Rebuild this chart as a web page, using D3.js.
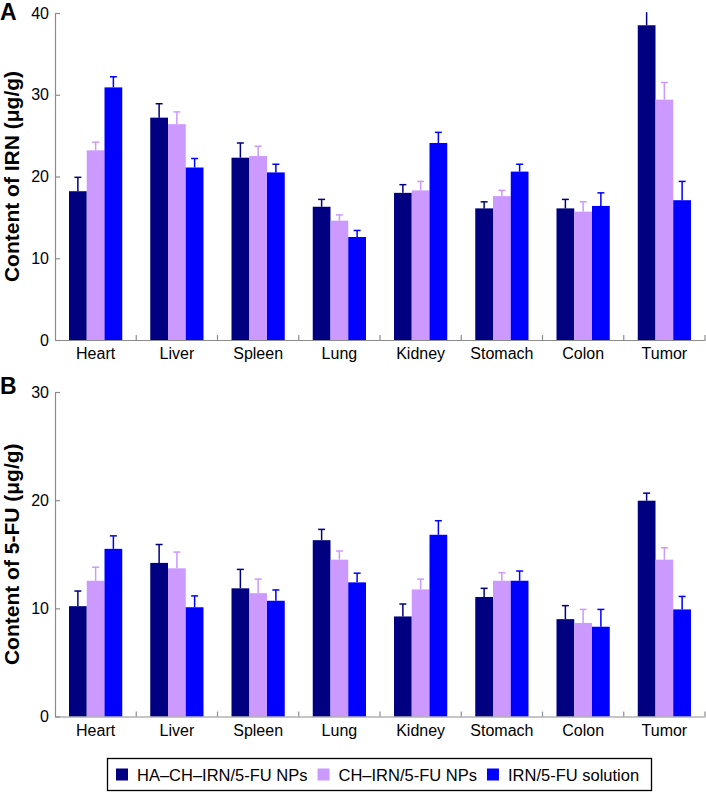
<!DOCTYPE html>
<html><head><meta charset="utf-8">
<script src="https://cdn.jsdelivr.net/npm/d3@7"></script>
<style>body{margin:0;background:#fff}svg{display:block;font-family:"Liberation Sans",Arial,sans-serif}</style>
</head><body>
<svg id="c" width="706" height="792"></svg>
<script>
const categories = ["Heart","Liver","Spleen","Lung","Kidney","Stomach","Colon","Tumor"];
const seriesNames = ["HA–CH–IRN/5-FU NPs","CH–IRN/5-FU NPs","IRN/5-FU solution"];
const colors = ["#000080","#cc99ff","#0000ff"];

// Panel A: IRN content (µg/g)
const irnHA   = [18.2, 27.2, 22.3, 16.3, 18.0, 16.1, 16.1, 38.5];
const irnCH   = [23.2, 26.4, 22.5, 14.6, 18.3, 17.6, 15.7, 29.4];
const irnSol  = [30.9, 21.1, 20.5, 12.6, 24.1, 20.6, 16.4, 17.1];
const irnHAErr  = [1.7, 1.7, 1.8, 0.9, 1.0, 0.8, 1.1, 1.6];
const irnCHErr  = [1.0, 1.5, 1.2, 0.7, 1.1, 0.7, 1.2, 2.1];
const irnSolErr = [1.3, 1.1, 1.0, 0.8, 1.3, 0.9, 1.6, 2.3];

// Panel B: 5-FU content (µg/g)
const fuHA   = [10.2, 14.2, 11.85, 16.3, 9.25, 11.05, 9.0, 19.95];
const fuCH   = [12.55, 13.7, 11.4, 14.5, 11.75, 12.55, 8.65, 14.5];
const fuSol  = [15.5, 10.1, 10.7, 12.4, 16.8, 12.55, 8.3, 9.9];
const fuHAErr  = [1.4, 1.7, 1.75, 1.0, 1.15, 0.8, 1.25, 0.7];
const fuCHErr  = [1.25, 1.5, 1.3, 0.8, 0.95, 0.75, 1.25, 1.1];
const fuSolErr = [1.2, 1.05, 1.0, 0.85, 1.3, 0.9, 1.6, 1.2];

const yTicksA = [0,10,20,30,40];
const yTicksB = [0,10,20,30];

const svg = d3.select("#c");
const axisColor = "#8c8c8c";

function panel(cfg){
  const g = svg.append("g");
  const x = d3.scaleBand().domain(categories).range([55,705]);
  const inner = d3.scaleBand().domain(seriesNames).range([14, x.bandwidth()-14]);
  const y = d3.scaleLinear().domain(cfg.domain).range(cfg.range);
  const vals = [cfg.a, cfg.b, cfg.c];
  const errs = [cfg.ea, cfg.eb, cfg.ec];
  const data = [];
  categories.forEach((cat,i)=>seriesNames.forEach((s,j)=>data.push({cat, s, j, v: vals[j][i], e: errs[j][i]})));

  // bars
  g.selectAll("rect.bar").data(data).join("rect")
    .attr("x", d=>x(d.cat)+inner(d.s))
    .attr("width", inner.bandwidth())
    .attr("y", d=>y(d.v))
    .attr("height", d=>y(0)-y(d.v))
    .attr("fill", d=>colors[d.j]);

  // error bars
  const eg = g.selectAll("g.err").data(data).join("g")
    .attr("stroke", d=>colors[d.j]).attr("stroke-width",1.5).attr("fill","none");
  eg.append("line")
    .attr("x1", d=>x(d.cat)+inner(d.s)+inner.bandwidth()/2)
    .attr("x2", d=>x(d.cat)+inner(d.s)+inner.bandwidth()/2)
    .attr("y1", d=>y(d.v)).attr("y2", d=>y(Math.min(d.v+d.e, cfg.domain[1]+0.1)));
  eg.filter(d=>d.v+d.e <= cfg.domain[1]).append("line")
    .attr("x1", d=>x(d.cat)+inner(d.s)+inner.bandwidth()/2-3.5)
    .attr("x2", d=>x(d.cat)+inner(d.s)+inner.bandwidth()/2+3.5)
    .attr("y1", d=>y(d.v+d.e)).attr("y2", d=>y(d.v+d.e));

  // y axis
  const ya = g.append("g").attr("transform","translate(55,0)")
    .call(d3.axisLeft(y).tickValues(cfg.ticks).tickSizeInner(-5).tickSizeOuter(0).tickPadding(6));
  ya.select(".domain").attr("stroke",axisColor).attr("stroke-width",1.2);
  ya.selectAll(".tick line").attr("stroke",axisColor).attr("stroke-width",1.2);
  ya.selectAll(".tick text").attr("font-size",16).attr("fill","#000").attr("font-family","Liberation Sans, Arial, sans-serif");

  // x axis
  const xa = g.append("g").attr("transform",`translate(0,${y(0)})`)
    .call(d3.axisBottom(x).tickSize(0).tickPadding(8));
  xa.select(".domain").attr("stroke",axisColor).attr("stroke-width",1.2);
  xa.selectAll(".tick text").attr("font-size",16).attr("fill","#000").attr("font-family","Liberation Sans, Arial, sans-serif");
  xa.selectAll("line.sep").data(categories.slice(1).concat(["end"])).join("line").attr("class","sep")
    .attr("x1",(d,i)=>x(categories[i])+x.bandwidth()).attr("x2",(d,i)=>x(categories[i])+x.bandwidth())
    .attr("y1",0).attr("y2",-5).attr("stroke",axisColor).attr("stroke-width",1.2);

  // y title
  const mid = (cfg.range[0]+cfg.range[1])/2;
  g.append("text").attr("transform",`translate(19,${mid}) rotate(-90)`)
    .attr("text-anchor","middle").attr("font-size",21).attr("font-weight","bold").text(cfg.title);
  // panel letter
  g.append("text").attr("x",0).attr("y",cfg.letterY).attr("font-size",23).attr("font-weight","bold").text(cfg.letter);
}

panel({domain:[0,40], range:[340,13], ticks:yTicksA, a:irnHA, b:irnCH, c:irnSol, ea:irnHAErr, eb:irnCHErr, ec:irnSolErr,
  title:"Content of IRN (μg/g)", letter:"A", letterY:20});
panel({domain:[0,30], range:[716.5,392], ticks:yTicksB, a:fuHA, b:fuCH, c:fuSol, ea:fuHAErr, eb:fuCHErr, ec:fuSolErr,
  title:"Content of 5-FU (μg/g)", letter:"B", letterY:394});

// legend
const lg = svg.append("g");
lg.append("rect").attr("x",107.5).attr("y",758.5).attr("width",544).attr("height",32)
  .attr("fill","#fff").attr("stroke","#000").attr("stroke-width",1.3);
let lx = 116;
seriesNames.forEach((s,i)=>{
  lg.append("rect").attr("x",lx).attr("y",768.5).attr("width",12).attr("height",12).attr("fill",colors[i]);
  const t = lg.append("text").attr("x",lx+21).attr("y",780.5).attr("font-size",16.5).text(s);
  lx = lx + 21 + t.node().getComputedTextLength() + 10;
});
</script>
</body></html>
